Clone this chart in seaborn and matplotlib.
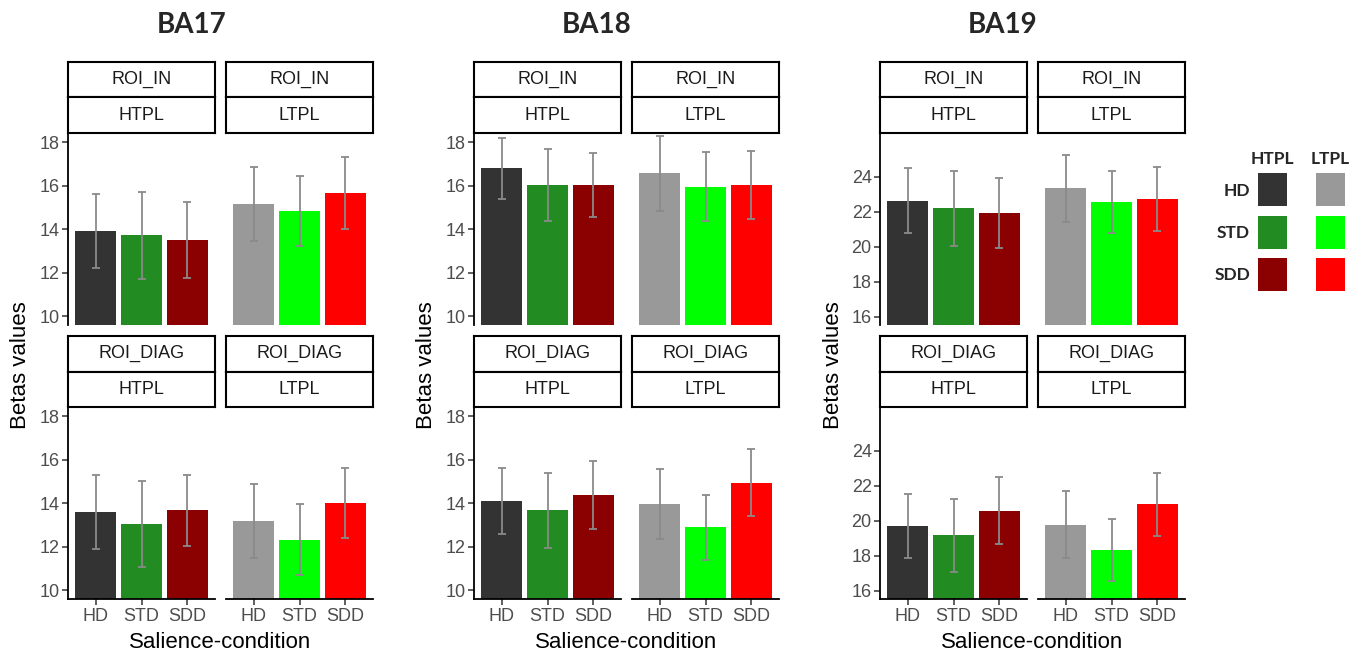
import matplotlib
matplotlib.use("Agg")
import matplotlib.pyplot as plt
from matplotlib.patches import Rectangle
import seaborn as sns
import pandas as pd

sns.set_style("white")
plt.rcParams['font.family'] = ['Liberation Sans', 'DejaVu Sans']

# ---------------- data ----------------
conditions = ["HD", "STD", "SDD"]
regions = ["BA17", "BA18", "BA19"]
rois = ["ROI_IN", "ROI_DIAG"]
pls = ["HTPL", "LTPL"]

# order of panels: (ROI_IN,HTPL), (ROI_IN,LTPL), (ROI_DIAG,HTPL), (ROI_DIAG,LTPL)
ba17_means = [[13.92, 13.72, 13.51], [15.18, 14.84, 15.68],
              [13.60, 13.04, 13.68], [13.18, 12.33, 14.03]]
ba17_errs = [[1.70, 2.00, 1.73], [1.70, 1.60, 1.67],
             [1.70, 1.98, 1.64], [1.71, 1.64, 1.60]]
ba18_means = [[16.80, 16.04, 16.03], [16.58, 15.96, 16.04],
              [14.10, 13.68, 14.40], [13.97, 12.90, 14.96]]
ba18_errs = [[1.41, 1.67, 1.48], [1.72, 1.58, 1.58],
             [1.52, 1.73, 1.56], [1.60, 1.49, 1.56]]
ba19_means = [[22.63, 22.19, 21.94], [23.33, 22.55, 22.72],
              [19.70, 19.16, 20.57], [19.78, 18.30, 20.93]]
ba19_errs = [[1.85, 2.15, 2.00], [1.93, 1.76, 1.82],
             [1.81, 2.07, 1.90], [1.90, 1.77, 1.82]]

ba17_ticks = [10, 12, 14, 16, 18]
ba18_ticks = [10, 12, 14, 16, 18]
ba19_ticks = [16, 18, 20, 22, 24]

htpl_colors = ["#333333", "#228B22", "#8B0000"]
ltpl_colors = ["#999999", "#00FF00", "#FF0000"]

# ---------------- layout ----------------
W, H = 1360, 656
fig = plt.figure(figsize=(W / 100, H / 100), dpi=100)


def px_axes(x0, y0, x1, y1, **kw):
    return fig.add_axes([x0 / W, 1 - y1 / H, (x1 - x0) / W, (y1 - y0) / H], **kw)


means_all = [ba17_means, ba18_means, ba19_means]
errs_all = [ba17_errs, ba18_errs, ba19_errs]
ticks_all = [ba17_ticks, ba18_ticks, ba19_ticks]
ylims = [(9.63, 18.43), (9.63, 18.43), (15.55, 26.5)]
x_offsets = [68, 474, 880]
title_x = [192, 597, 1003]
panel_w = 147
col_gap = 11

row_geo = [  # strip1 top, strip boundary, strip bottom/axes top, axes bottom
    (62, 97.3, 133, 324.5),
    (336, 371.5, 407, 598.5),
]

tick_color = "#4D4D4D"
strip_text_color = "#1A1A1A"

for ri, reg in enumerate(regions):
    x0 = x_offsets[ri]
    for r in range(2):
        s0, s1, a0, a1 = row_geo[r]
        for c in range(2):
            idx = r * 2 + c
            px0 = x0 + c * (panel_w + col_gap)
            px1 = px0 + panel_w
            ax = px_axes(px0, a0, px1, a1)
            cols = htpl_colors if c == 0 else ltpl_colors
            df = pd.DataFrame({"cond": conditions,
                               "beta": means_all[ri][idx],
                               "err": errs_all[ri][idx]})
            sns.barplot(data=df, x="cond", y="beta", hue="cond",
                        palette=cols, order=conditions, hue_order=conditions,
                        width=0.9, saturation=1, errorbar=None, legend=False,
                        ax=ax, linewidth=0)
            ax.errorbar(range(len(conditions)), df["beta"], yerr=df["err"],
                        fmt="none", ecolor="#8a8a8a", elinewidth=1.3,
                        capsize=3, capthick=1.3, zorder=5)
            ax.set_xlim(-0.6, 2.6)
            ax.set_ylim(*ylims[ri])
            ax.set_xlabel("")
            ax.set_ylabel("")
            ax.set_facecolor("white")
            for sp in ["top", "right"]:
                ax.spines[sp].set_visible(False)
            ax.spines["left"].set_visible(c == 0)
            ax.spines["bottom"].set_visible(r == 1)
            for sp in ["left", "bottom"]:
                ax.spines[sp].set_linewidth(1.3)
                ax.spines[sp].set_color("black")
            ax.set_yticks(ticks_all[ri])
            ax.tick_params(axis="y", left=(c == 0), labelleft=(c == 0),
                           length=4, width=1.1, color="#333333",
                           labelsize=13, labelcolor=tick_color, pad=2)
            ax.tick_params(axis="x", bottom=(r == 1), labelbottom=(r == 1),
                           length=4, width=1.1, color="#333333",
                           labelsize=13, labelcolor=tick_color, pad=3)
            # strips
            for (ya, yb, txt) in [(s0, s1, rois[r]), (s1, a0, pls[c])]:
                sax = px_axes(px0, ya, px1, yb)
                sax.set_xticks([])
                sax.set_yticks([])
                sax.set_facecolor("white")
                for sp in sax.spines.values():
                    sp.set_visible(True)
                    sp.set_linewidth(1.5)
                    sp.set_color("black")
                sax.text(0.5, 0.5, txt, ha="center", va="center",
                         fontsize=13, color=strip_text_color,
                         transform=sax.transAxes)
    # axis titles
    fig.text((x0 - 47) / W, 1 - 365 / H, "Betas values", rotation=90,
             ha="center", va="center", fontsize=16, color="black")
    fig.text((x0 + panel_w + col_gap / 2) / W, 1 - 643 / H, "Salience-condition",
             ha="center", va="center", fontsize=16, color="black")
    fig.text(title_x[ri] / W, 1 - 25 / H, reg, ha="center", va="center",
             fontsize=20, fontweight="bold", family=["Lato", "DejaVu Sans"])

# ---------------- legend ----------------
leg_cols_x = [1258, 1316]
leg_rows_y = [173, 216, 258]
sw_w, sw_h = 29, 33
for ci, (name, cols) in enumerate(zip(pls, [htpl_colors, ltpl_colors])):
    fig.text((leg_cols_x[ci] + sw_w / 2) / W, 1 - 159 / H, name, ha="center",
             va="center", fontsize=12.5, fontweight="bold",
             family=["Lato", "DejaVu Sans"])
    for k, col in enumerate(cols):
        y = leg_rows_y[k]
        fig.add_artist(Rectangle((leg_cols_x[ci] / W, 1 - (y + sw_h) / H),
                                 sw_w / W, sw_h / H, transform=fig.transFigure,
                                 facecolor=col, edgecolor="none"))
for k, cond in enumerate(conditions):
    fig.text(1250 / W, 1 - (leg_rows_y[k] + sw_h / 2 + 1) / H, cond, ha="right",
             va="center", fontsize=12.5, fontweight="bold",
             family=["Lato", "DejaVu Sans"])

fig.savefig("out.png", dpi=100, facecolor="white")
